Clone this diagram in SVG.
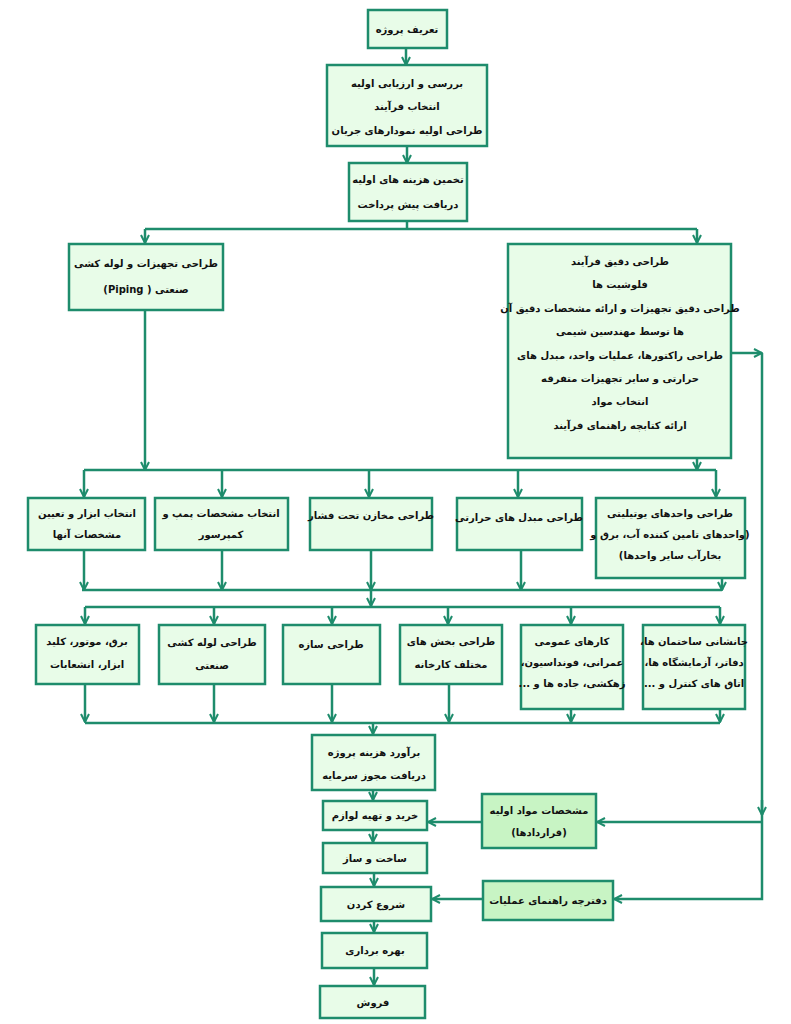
<svg xmlns="http://www.w3.org/2000/svg" width="791" height="1024" viewBox="0 0 791 1024">
<style>
.b{fill:#e8fce8;stroke:#1e8c6c;stroke-width:2.5}
.d{fill:#c8f4c4;stroke:#1e8c6c;stroke-width:2.5}
text{font-family:"DejaVu Sans",sans-serif;font-weight:bold;font-size:10px;fill:#111;text-anchor:middle;direction:rtl}
.c line,.c polyline{stroke:#1e8c6c;stroke-width:2.5;fill:none}
</style>
<defs><marker id="a" viewBox="0 0 10 10" refX="9" refY="5" markerWidth="4" markerHeight="4" orient="auto" markerUnits="strokeWidth"><path d="M1,1 L9,5 L1,9" fill="none" stroke="#1e8c6c" stroke-width="2"/></marker></defs>
<rect width="791" height="1024" fill="#fff"/>
<g class="c">
<line x1="406" y1="48" x2="406" y2="65" marker-end="url(#a)"/>
<line x1="407" y1="146" x2="407" y2="163" marker-end="url(#a)"/>
<line x1="407" y1="221" x2="407" y2="229"/>
<line x1="145" y1="229" x2="697" y2="229"/>
<line x1="145" y1="229" x2="145" y2="243" marker-end="url(#a)"/>
<line x1="697" y1="229" x2="697" y2="243" marker-end="url(#a)"/>
<line x1="145" y1="310" x2="145" y2="470" marker-end="url(#a)"/>
<line x1="697" y1="458" x2="697" y2="470" marker-end="url(#a)"/>
<line x1="84" y1="470" x2="716" y2="470"/>
<line x1="84" y1="470" x2="84" y2="497" marker-end="url(#a)"/>
<line x1="222" y1="470" x2="222" y2="497" marker-end="url(#a)"/>
<line x1="369" y1="470" x2="369" y2="497" marker-end="url(#a)"/>
<line x1="518" y1="470" x2="518" y2="497" marker-end="url(#a)"/>
<line x1="716" y1="470" x2="716" y2="497" marker-end="url(#a)"/>
<line x1="731" y1="353" x2="762" y2="353" marker-end="url(#a)"/>
<polyline points="762,353 762,899 614,899" marker-end="url(#a)"/>
<line x1="762" y1="822" x2="597" y2="822" marker-end="url(#a)"/>
<line x1="762" y1="800" x2="762" y2="815" marker-end="url(#a)"/>
<line x1="84" y1="550" x2="84" y2="590" marker-end="url(#a)"/>
<line x1="222" y1="550" x2="222" y2="590" marker-end="url(#a)"/>
<line x1="371" y1="550" x2="371" y2="590" marker-end="url(#a)"/>
<line x1="521" y1="550" x2="521" y2="590" marker-end="url(#a)"/>
<line x1="722" y1="578" x2="722" y2="590" marker-end="url(#a)"/>
<line x1="82" y1="590" x2="722" y2="590"/>
<line x1="371" y1="590" x2="371" y2="606" marker-end="url(#a)"/>
<line x1="85" y1="607" x2="720" y2="607"/>
<line x1="85" y1="607" x2="85" y2="624" marker-end="url(#a)"/>
<line x1="214" y1="607" x2="214" y2="624" marker-end="url(#a)"/>
<line x1="332" y1="607" x2="332" y2="624" marker-end="url(#a)"/>
<line x1="448" y1="607" x2="448" y2="624" marker-end="url(#a)"/>
<line x1="571" y1="607" x2="571" y2="624" marker-end="url(#a)"/>
<line x1="720" y1="607" x2="720" y2="624" marker-end="url(#a)"/>
<line x1="85" y1="684" x2="85" y2="722" marker-end="url(#a)"/>
<line x1="214" y1="684" x2="214" y2="722" marker-end="url(#a)"/>
<line x1="332" y1="684" x2="332" y2="722" marker-end="url(#a)"/>
<line x1="449" y1="684" x2="449" y2="722" marker-end="url(#a)"/>
<line x1="571" y1="709" x2="571" y2="722" marker-end="url(#a)"/>
<line x1="720" y1="709" x2="720" y2="722" marker-end="url(#a)"/>
<line x1="85" y1="723" x2="720" y2="723"/>
<line x1="373" y1="723" x2="373" y2="734" marker-end="url(#a)"/>
<line x1="373" y1="790" x2="373" y2="800" marker-end="url(#a)"/>
<line x1="373" y1="830" x2="373" y2="842" marker-end="url(#a)"/>
<line x1="374" y1="873" x2="374" y2="886" marker-end="url(#a)"/>
<line x1="374" y1="921" x2="374" y2="932" marker-end="url(#a)"/>
<line x1="374" y1="968" x2="374" y2="985" marker-end="url(#a)"/>
<line x1="482" y1="822" x2="428" y2="822" marker-end="url(#a)"/>
<line x1="483" y1="899" x2="432" y2="899" marker-end="url(#a)"/>
</g>
<g id="n1"><rect class="b" x="368" y="10" width="79" height="38"/><text x="407" y="33">تعریف پروژه</text></g>
<g id="n2"><rect class="b" x="327" y="65" width="160" height="81"/><text x="407" y="87">بررسی و ارزیابی اولیه</text><text x="407" y="110">انتخاب فرآیند</text><text x="407" y="134">طراحی اولیه نمودارهای جریان</text></g>
<g id="n3"><rect class="b" x="349" y="163" width="118" height="58"/><text x="408" y="183">تخمین هزینه های اولیه</text><text x="408" y="208">دریافت پیش پرداخت</text></g>
<g id="n4"><rect class="b" x="69" y="244" width="154" height="66"/><text x="146" y="267">طراحی تجهیزات و لوله کشی</text><text x="146" y="293">صنعتی  ( Piping)</text></g>
<g id="n5"><rect class="b" x="508" y="244" width="223" height="214"/><text x="620" y="265">طراحی دقیق فرآیند</text><text x="620" y="288">فلوشیت ها</text><text x="620" y="312">طراحی دقیق تجهیزات و ارائه مشخصات دقیق آن</text><text x="620" y="335">ها توسط مهندسین شیمی</text><text x="620" y="359">طراحی راکتورها، عملیات واحد، مبدل های</text><text x="620" y="382">حرارتی و سایر تجهیزات متفرقه</text><text x="620" y="405">انتخاب مواد</text><text x="620" y="429">ارائه کتابچه راهنمای فرآیند</text></g>
<g id="r1a"><rect class="b" x="28" y="498" width="117" height="52"/><text x="87" y="517">انتخاب ابزار و تعیین</text><text x="87" y="538">مشخصات آنها</text></g>
<g id="r1b"><rect class="b" x="155" y="498" width="133" height="52"/><text x="221" y="517">انتخاب مشخصات پمپ و</text><text x="221" y="538">کمپرسور</text></g>
<g id="r1c"><rect class="b" x="310" y="498" width="122" height="52"/><text x="371" y="519">طراحی مخازن تحت فشار</text></g>
<g id="r1d"><rect class="b" x="457" y="498" width="125" height="52"/><text x="519" y="521">طراحی مبدل های حرارتی</text></g>
<g id="r1e"><rect class="b" x="596" y="498" width="149" height="80"/><text x="670" y="517">طراحی واحدهای یوتیلیتی</text><text x="670" y="538">(واحدهای تامین کننده آب، برق و</text><text x="670" y="559">بخارآب سایر واحدها)</text></g>
<g id="r2a"><rect class="b" x="36" y="625" width="103" height="59"/><text x="87" y="645">برق، موتور، کلید</text><text x="87" y="668">ابزار، انشعابات</text></g>
<g id="r2b"><rect class="b" x="159" y="625" width="106" height="59"/><text x="212" y="646">طراحی لوله کشی</text><text x="212" y="669">صنعتی</text></g>
<g id="r2c"><rect class="b" x="283" y="625" width="97" height="59"/><text x="331" y="648">طراحی سازه</text></g>
<g id="r2d"><rect class="b" x="400" y="625" width="102" height="59"/><text x="451" y="645">طراحی بخش های</text><text x="451" y="668">مختلف کارخانه</text></g>
<g id="r2e"><rect class="b" x="521" y="625" width="102" height="84"/><text x="572" y="645">کارهای عمومی</text><text x="572" y="666">عمرانی، فونداسیون،</text><text x="572" y="687">زهکشی، جاده ها و ...</text></g>
<g id="r2f"><rect class="b" x="643" y="625" width="102" height="84"/><text x="694" y="645">جانشانی ساختمان ها،</text><text x="694" y="666">دفاتر، آزمایشگاه ها،</text><text x="694" y="687">اتاق های کنترل و ...</text></g>
<g id="n6"><rect class="b" x="312" y="735" width="123" height="55"/><text x="374" y="756">برآورد هزینه پروژه</text><text x="374" y="779">دریافت مجوز سرمایه</text></g>
<g id="n7"><rect class="b" x="323" y="801" width="104" height="29"/><text x="375" y="819">خرید و تهیه لوازم</text></g>
<g id="n8"><rect class="b" x="323" y="843" width="104" height="30"/><text x="375" y="862">ساخت و ساز</text></g>
<g id="n9"><rect class="b" x="321" y="887" width="110" height="34"/><text x="376" y="908">شروع کردن</text></g>
<g id="n10"><rect class="b" x="322" y="933" width="105" height="35"/><text x="375" y="954">بهره برداری</text></g>
<g id="n11"><rect class="b" x="320" y="986" width="105" height="32"/><text x="373" y="1006">فروش</text></g>
<g id="m1"><rect class="d" x="482" y="794" width="114" height="54"/><text x="539" y="814">مشخصات مواد اولیه</text><text x="539" y="836">(قراردادها)</text></g>
<g id="m2"><rect class="d" x="483" y="881" width="130" height="39"/><text x="548" y="904">دفترچه راهنمای عملیات</text></g>
</svg>
